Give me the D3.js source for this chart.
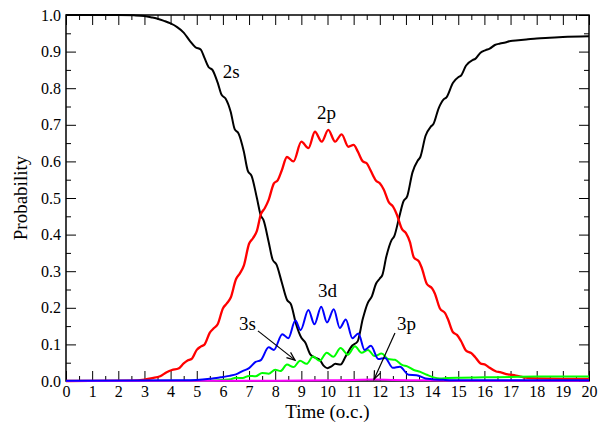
<!DOCTYPE html>
<html>
<head>
<meta charset="utf-8">
<script src="https://cdn.jsdelivr.net/npm/d3@7"></script>
<style>
  body { margin: 0; background: #fff; }
</style>
</head>
<body>
<div id="chart"></div>
<script>
// traced points [time (o.c.), probability]
const s2 = [[0,1.0],[2,1.0],[2.6,0.999],[3.0,0.997],[3.3,0.993],[3.5,0.99],[3.75,0.984],[4.0,0.977],[4.25,0.967],[4.5,0.952],[4.75,0.928],[4.95,0.912],[5.15,0.906],[5.3,0.882],[5.45,0.858],[5.6,0.85],[5.8,0.815],[5.95,0.782],[6.1,0.772],[6.3,0.735],[6.45,0.688],[6.6,0.676],[6.8,0.627],[6.95,0.575],[7.1,0.56],[7.3,0.5],[7.45,0.452],[7.55,0.44],[7.75,0.38],[7.9,0.332],[8.05,0.318],[8.25,0.27],[8.45,0.222],[8.6,0.21],[8.8,0.155],[9.0,0.118],[9.15,0.105],[9.35,0.072],[9.55,0.063],[9.7,0.058],[9.85,0.042],[10.0,0.035],[10.15,0.04],[10.3,0.047],[10.5,0.045],[10.7,0.068],[10.95,0.097],[11.15,0.108],[11.35,0.17],[11.55,0.215],[11.7,0.232],[11.85,0.265],[12.0,0.28],[12.1,0.29],[12.25,0.34],[12.45,0.385],[12.55,0.395],[12.75,0.45],[12.9,0.49],[13.05,0.505],[13.25,0.57],[13.45,0.602],[13.55,0.612],[13.75,0.67],[13.95,0.695],[14.05,0.702],[14.25,0.745],[14.45,0.77],[14.55,0.775],[14.8,0.815],[15.0,0.83],[15.1,0.834],[15.3,0.862],[15.55,0.877],[15.65,0.88],[15.85,0.897],[16.05,0.904],[16.2,0.908],[16.4,0.918],[16.6,0.922],[16.8,0.925],[17.0,0.929],[17.3,0.931],[17.6,0.933],[18,0.936],[18.5,0.938],[19,0.94],[20,0.942]];

const p2 = [[0,0],[2.5,0.001],[3.0,0.004],[3.3,0.008],[3.6,0.013],[3.85,0.024],[4.05,0.03],[4.3,0.034],[4.5,0.048],[4.65,0.056],[4.8,0.06],[5.0,0.085],[5.15,0.094],[5.3,0.1],[5.5,0.132],[5.65,0.144],[5.8,0.155],[6.0,0.198],[6.15,0.212],[6.3,0.228],[6.5,0.278],[6.65,0.294],[6.8,0.315],[7.0,0.375],[7.15,0.39],[7.3,0.41],[7.45,0.455],[7.6,0.472],[7.75,0.495],[7.95,0.54],[8.1,0.549],[8.25,0.575],[8.45,0.612],[8.7,0.6],[9.0,0.654],[9.27,0.636],[9.52,0.681],[9.78,0.654],[10.03,0.686],[10.29,0.654],[10.54,0.674],[10.8,0.64],[11.0,0.645],[11.15,0.628],[11.35,0.6],[11.5,0.595],[11.65,0.575],[11.85,0.548],[12.0,0.54],[12.15,0.523],[12.35,0.488],[12.5,0.477],[12.65,0.455],[12.85,0.415],[13.0,0.404],[13.15,0.38],[13.3,0.338],[13.5,0.326],[13.6,0.31],[13.8,0.265],[14.0,0.253],[14.1,0.24],[14.3,0.198],[14.5,0.185],[14.6,0.17],[14.8,0.133],[14.95,0.126],[15.1,0.11],[15.3,0.083],[15.5,0.076],[15.65,0.065],[15.85,0.048],[16.05,0.044],[16.2,0.036],[16.45,0.026],[16.6,0.024],[16.9,0.018],[17.2,0.015],[17.5,0.01],[18,0.007],[19,0.006],[20,0.006]];

const d3s = [[0,0.001],[4.5,0.002],[5.0,0.003],[5.5,0.006],[5.75,0.008],[6.0,0.011],[6.25,0.014],[6.5,0.018],[6.75,0.027],[7.0,0.035],[7.25,0.052],[7.45,0.057],[7.75,0.092],[7.95,0.085],[8.27,0.128],[8.5,0.117],[8.77,0.165],[8.97,0.139],[9.27,0.194],[9.5,0.155],[9.76,0.203],[9.98,0.16],[10.24,0.196],[10.47,0.145],[10.7,0.168],[10.95,0.117],[11.18,0.13],[11.42,0.085],[11.66,0.096],[11.94,0.06],[12.2,0.063],[12.5,0.036],[12.77,0.039],[13.1,0.017],[13.4,0.016],[13.75,0.007],[14.0,0.005],[14.5,0.003],[15,0.002],[20,0.002]];

const s3 = [[0,0],[5.5,0.001],[6.0,0.003],[6.3,0.005],[6.5,0.009],[6.75,0.008],[7.0,0.014],[7.25,0.013],[7.5,0.022],[7.75,0.02],[8.0,0.031],[8.2,0.027],[8.45,0.045],[8.7,0.038],[8.95,0.055],[9.2,0.047],[9.45,0.067],[9.7,0.055],[9.97,0.077],[10.22,0.066],[10.5,0.09],[10.78,0.072],[11.05,0.095],[11.3,0.077],[11.55,0.085],[11.8,0.068],[12.07,0.075],[12.32,0.06],[12.58,0.058],[12.85,0.044],[13.05,0.04],[13.3,0.03],[13.55,0.025],[13.8,0.017],[14.05,0.01],[14.3,0.007],[14.6,0.008],[15.0,0.009],[16,0.01],[17,0.011],[18,0.012],[20,0.012]];

const p3 = [[0,0],[6,0.0005],[8,0.001],[10,0.002],[11,0.003],[11.8,0.004],[12.5,0.003],[13.5,0.002],[15,0.001],[20,0.001]];

const seriesNames = ["2s", "2p", "3s", "3p", "3d"];
const seriesColors = ["#000000", "#ff0000", "#00ff00", "#ff00ff", "#0000ff"];
const seriesData = [s2, p2, s3, p3, d3s];

const xTicks = d3.range(0, 21);
const xMinor = d3.range(0.5, 20, 1);
const yTicks = d3.range(0, 1.01, 0.1);
const yMinor = d3.range(0.05, 1, 0.1);

// curve labels [text, t, p]
const labels = [["2s", 5.99, 0.828], ["2p", 9.6, 0.716], ["3d", 9.64, 0.23], ["3s", 6.62, 0.139], ["3p", 12.66, 0.139]];
// arrows [t0, p0, t1, p1]
const arrows = [[7.34, 0.137, 8.76, 0.057], [12.58, 0.131, 11.78, 0.005]];

const FONT = '"Liberation Serif", "Times New Roman", "DejaVu Serif", serif';
const W = 608, H = 424;
const margin = {top: 15, right: 19, bottom: 43, left: 66};

const svg = d3.select("#chart").append("svg")
    .attr("width", W)
    .attr("height", H);

const x = d3.scaleLinear().domain([0, 20]).range([margin.left, W - margin.right]);
const y = d3.scaleLinear().domain([0, 1]).range([H - margin.bottom, margin.top]);

function styleAxis(g) {
    g.attr("font-family", FONT);
    g.select(".domain").remove();
    g.selectAll(".tick line").attr("stroke", "#000").attr("stroke-width", 1);
    g.selectAll("text").style("font-family", FONT).style("font-size", "16px").attr("fill", "#000");
}

// major + minor ticks, all pointing inward
svg.append("g")
    .attr("transform", `translate(0,${y(0)})`)
    .call(d3.axisBottom(x).tickValues(xTicks).tickSize(-10).tickPadding(5).tickFormat(d3.format("d")))
    .call(styleAxis);
svg.append("g")
    .attr("transform", `translate(0,${y(0)})`)
    .call(d3.axisBottom(x).tickValues(xMinor).tickSize(-5).tickFormat(""))
    .call(styleAxis);
svg.append("g")
    .attr("transform", `translate(0,${y(1)})`)
    .call(d3.axisTop(x).tickValues(xTicks).tickSize(-10).tickFormat(""))
    .call(styleAxis);
svg.append("g")
    .attr("transform", `translate(0,${y(1)})`)
    .call(d3.axisTop(x).tickValues(xMinor).tickSize(-5).tickFormat(""))
    .call(styleAxis);

svg.append("g")
    .attr("transform", `translate(${x(0)},0)`)
    .call(d3.axisLeft(y).tickValues(yTicks).tickSize(-10).tickPadding(5).tickFormat(d3.format(".1f")))
    .call(styleAxis);
svg.append("g")
    .attr("transform", `translate(${x(0)},0)`)
    .call(d3.axisLeft(y).tickValues(yMinor).tickSize(-5).tickFormat(""))
    .call(styleAxis);
svg.append("g")
    .attr("transform", `translate(${x(20)},0)`)
    .call(d3.axisRight(y).tickValues(yTicks).tickSize(-10).tickFormat(""))
    .call(styleAxis);
svg.append("g")
    .attr("transform", `translate(${x(20)},0)`)
    .call(d3.axisRight(y).tickValues(yMinor).tickSize(-5).tickFormat(""))
    .call(styleAxis);

// frame
svg.append("rect")
    .attr("x", x(0))
    .attr("y", y(1))
    .attr("width", x(20) - x(0))
    .attr("height", y(0) - y(1))
    .attr("fill", "none")
    .attr("stroke", "#000")
    .attr("stroke-width", 1.5);

const line = d3.line()
    .x(d => x(d[0]))
    .y(d => y(d[1]))
    .curve(d3.curveMonotoneX);

svg.selectAll(".series")
    .data(seriesData)
    .join("path")
    .attr("class", "series")
    .attr("d", line)
    .attr("fill", "none")
    .attr("stroke", (d, i) => seriesColors[i])
    .attr("stroke-width", (d, i) => i == 1 ? 2.3 : 2)
    .attr("stroke-linejoin", "round");

// labels
svg.selectAll(".clabel")
    .data(labels)
    .join("text")
    .attr("class", "clabel")
    .attr("x", d => x(d[1]))
    .attr("y", d => y(d[2]))
    .style("font-family", FONT)
    .style("font-size", "19px")
    .text(d => d[0]);

// arrows
arrows.forEach(a => {
    const x0 = x(a[0]), y0 = y(a[1]), x1 = x(a[2]), y1 = y(a[3]);
    const ang = Math.atan2(y1 - y0, x1 - x0);
    const L = 9, spread = 0.38;
    svg.append("line")
        .attr("x1", x0).attr("y1", y0).attr("x2", x1).attr("y2", y1)
        .attr("stroke", "#000").attr("stroke-width", 1.2);
    svg.append("path")
        .attr("d", `M${x1 - L * Math.cos(ang - spread)},${y1 - L * Math.sin(ang - spread)}L${x1},${y1}L${x1 - L * Math.cos(ang + spread)},${y1 - L * Math.sin(ang + spread)}`)
        .attr("fill", "none")
        .attr("stroke", "#000")
        .attr("stroke-width", 1.2);
});

// axis titles
svg.append("text")
    .attr("x", (x(0) + x(20)) / 2)
    .attr("y", 418)
    .attr("text-anchor", "middle")
    .style("font-family", FONT)
    .style("font-size", "19px")
    .text("Time (o.c.)");

svg.append("text")
    .attr("transform", `translate(27,${(y(0) + y(1)) / 2}) rotate(-90)`)
    .attr("text-anchor", "middle")
    .style("font-family", FONT)
    .style("font-size", "19px")
    .text("Probability");
</script>
</body>
</html>
